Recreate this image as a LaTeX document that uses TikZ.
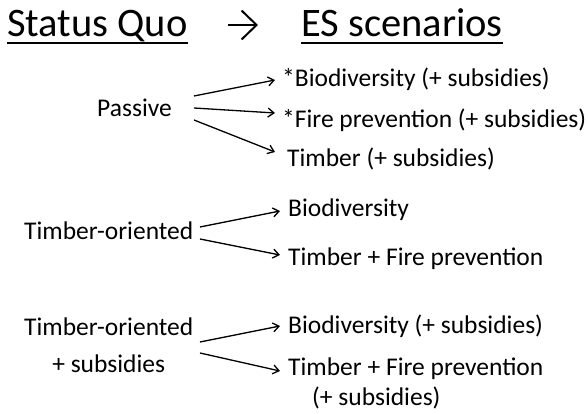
\documentclass[tikz,border=0pt]{standalone}
\usepackage{fontspec}
\setmainfont{Carlito}
\usetikzlibrary{arrows.meta}

\begin{document}
\begin{tikzpicture}[x=1pt, y=-1pt,
        head/.style={inner sep=0pt, anchor=base west, font=\fontsize{40.5}{48}\selectfont},
        lbl/.style={inner sep=0pt, anchor=base west, font=\fontsize{25.5}{30}\selectfont},
        flow/.style={line width=1.3pt, -{Straight Barb[length=6pt,width=9pt]}}]
            \useasboundingbox (0,0) rectangle (588,414);

            % heading
            \node[head] (sq) at (7,37) {Status Quo};
            \node[head] (es) at (301,37) {ES scenarios};
            \draw[line width=2pt] ([yshift=-6pt]sq.base west) -- ([yshift=-6pt]sq.base east);
            \draw[line width=2pt] ([yshift=-6pt]es.base west) -- ([yshift=-6pt]es.base east);
            \draw[line width=2pt, -{Straight Barb[length=15pt,width=29pt]}] ([shift={(221pt,12pt)}]sq.base west) -- ([shift={(-43pt,12pt)}]es.base west);

            % passive
            \node[lbl] (pas) at (97,117) {Passive};
            \node[lbl] (bio1) at (282,87) {*Biodiversity (+ subsidies)};
            \node[lbl] (fire1) at (282,128) {*Fire prevention (+ subsidies)};
            \node[lbl] (tim1) at (287,167) {Timber (+ subsidies)};
            \draw[flow] ([shift={(97pt,21pt)}]pas.base west) -- ([shift={(-7pt,7pt)}]bio1.base west);
            \draw[flow] ([shift={(97pt,9pt)}]pas.base west) -- ([shift={(-7pt,15pt)}]fire1.base west);
            \draw[flow] ([shift={(97pt,-3pt)}]pas.base west) -- ([shift={(-12pt,15pt)}]tim1.base west);

            % timber-oriented
            \node[lbl] (tor) at (24,239) {Timber-oriented};
            \node[lbl] (bio2) at (288,216) {Biodiversity};
            \node[lbl] (tfp2) at (288,265) {Timber + Fire prevention};
            \draw[flow] ([shift={(176pt,12pt)}]tor.base west) -- ([shift={(-8pt,5pt)}]bio2.base west);
            \draw[flow] ([shift={(176pt,0pt)}]tor.base west) -- ([shift={(-8pt,10pt)}]tfp2.base west);

            % timber-oriented + subsidies (base = last line)
            \node[lbl, align=center, font=\fontsize{25.5}{37}\selectfont] (tors) at (24,372) {Timber-oriented\\+ subsidies};
            \node[lbl] (bio3) at (288,333) {Biodiversity (+ subsidies)};
            \node[lbl, align=left] (tfp3) at (288,405) {Timber + Fire prevention\\\hspace*{24pt}(+ subsidies)};
            \draw[flow] ([shift={(176pt,30pt)}]tors.base west) -- ([shift={(-8pt,7pt)}]bio3.base west);
            \draw[flow] ([shift={(176pt,19pt)}]tors.base west) -- ([shift={(-8pt,34pt)}]tfp3.base west);
        \end{tikzpicture}
\end{document}
